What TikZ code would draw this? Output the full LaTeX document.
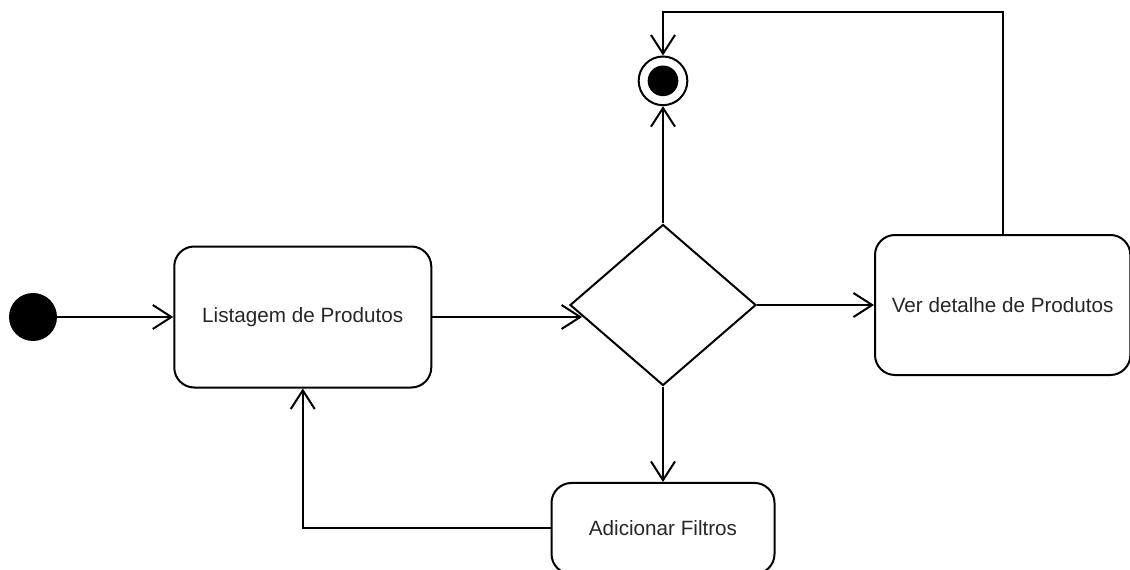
\documentclass[tikz,border=0pt]{standalone}
\usepackage{fontspec}
\setmainfont{Liberation Sans}
\usetikzlibrary{positioning, arrows.meta, shapes.geometric}

\begin{document}
\begin{tikzpicture}[
    x=0.75pt, y=-0.75pt,
    act/.style={rectangle, rounded corners=15pt, draw=black, line width=1.5pt,
                minimum width=192.75pt, minimum height=105.75pt, inner sep=3pt,
                font=\fontsize{15.5pt}{18pt}\selectfont, text=black!85, align=center},
    init/.style={circle, fill=black, minimum size=36pt, inner sep=0pt},
    final/.style={circle, draw=black, line width=1.5pt, minimum size=36.5pt, inner sep=0pt},
    choice/.style={diamond, draw=black, line width=1.5pt,
                   minimum width=139.5pt, minimum height=120.75pt, inner sep=0pt},
    arr/.style={-{Straight Barb[length=14pt, width=18pt]}, black, line width=1.5pt},
]
    \useasboundingbox (0,0) rectangle (1130,570);

    \node[init] (start) at (33,317) {};
    \node[act, right=87pt of start] (list) {Listagem de Produtos};
    \node[choice] (dec) at (663,305) {};
    \node[act, right=87.75pt of dec, minimum width=191.5pt, minimum height=105pt] (ver)
        {Ver detalhe de Produtos};
    \node[act, below=71.6pt of dec, minimum width=167.25pt, minimum height=68.25pt] (filt)
        {Adicionar Filtros};
    \node[final, above=88pt of dec] (stop) {};
    \fill (stop.center) circle[radius=11.5pt];

    \coordinate (top) at (1001,12);

    \draw[arr] (start) -- (list);
    \draw[arr] (list.east) -- (list.east -| dec.188);
    \draw[arr] (dec.east) -- (ver.west);
    \draw[arr] (dec.north) -- (stop.south);
    \draw[arr] (dec.south) -- (filt.north);
    \draw[arr] (ver.north) -- (ver.north |- top) -| (stop.north);
    \draw[arr] (filt.west) -| (list.south);
\end{tikzpicture}
\end{document}
